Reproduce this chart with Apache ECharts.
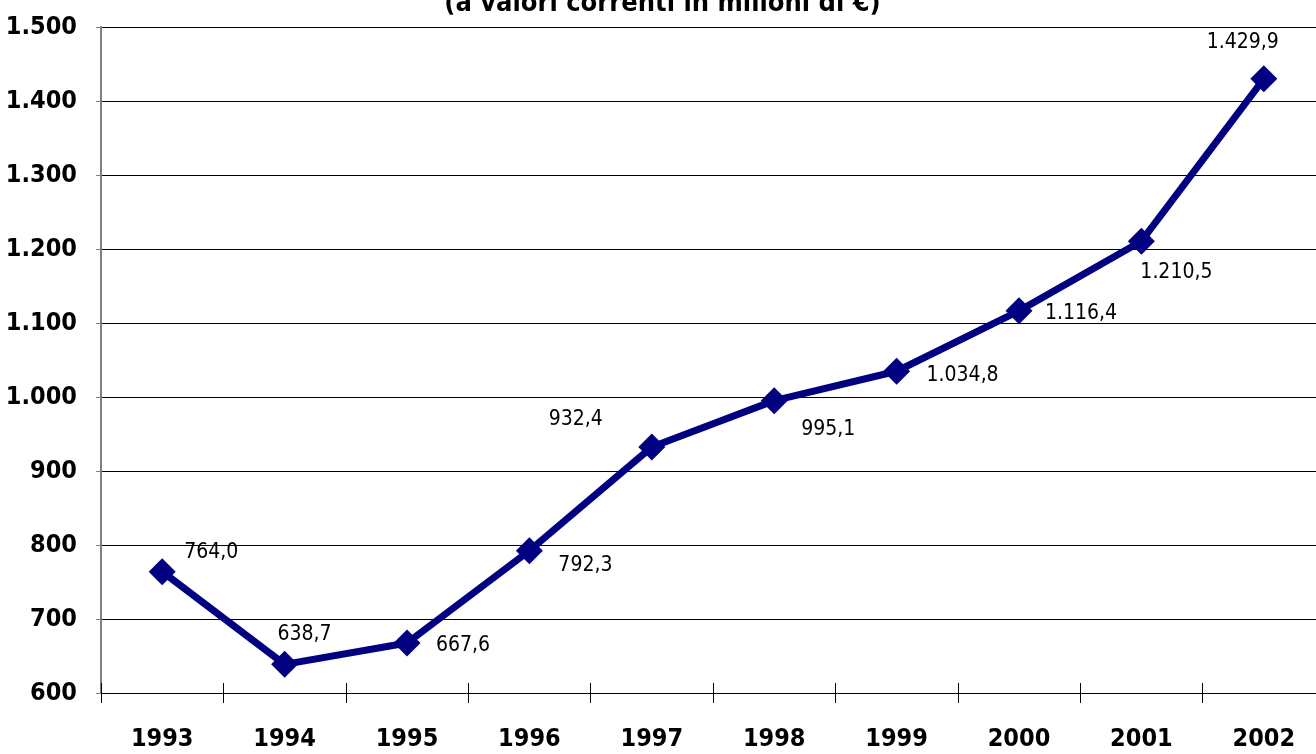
<!DOCTYPE html>
<html>
<head>
<meta charset="utf-8">
<script src="https://cdn.jsdelivr.net/npm/echarts@6/dist/echarts.min.js"></script>
<style>
  html, body { margin: 0; padding: 0; background: #fff; overflow: hidden; }
  #chart { width: 1325px; height: 754px; }
</style>
</head>
<body>
<div id="chart"></div>
<script>
const years = ['1993', '1994', '1995', '1996', '1997', '1998', '1999', '2000', '2001', '2002']
const values = [764.0, 638.7, 667.6, 792.3, 932.4, 995.1, 1034.8, 1116.4, 1210.5, 1429.9]
const titleText = '(a valori correnti in milioni di €)'

// where each value label sits relative to its marker
const labelOffsets = [
  [49, -19], [20, -30], [56, 3], [56, 15], [-76, -27],
  [54, 29], [66, 4], [62, 3], [35, 31], [-21, -36]
]

const font = '"Liberation Sans Narrow", "DejaVu Sans Condensed", "Arial Narrow", sans-serif'
const navy = '#000080'

function itFormat(v, decimals) {
  const parts = v.toFixed(decimals).split('.')
  const int = parts[0].replace(/\B(?=(\d{3})+(?!\d))/g, '.')
  return parts.length > 1 ? int + ',' + parts[1] : int
}

const chart = echarts.init(document.getElementById('chart'))

chart.setOption({
  backgroundColor: '#fff',
  animation: false,
  title: {
    text: titleText,
    left: 'center',
    top: -15,
    textStyle: { fontFamily: font, fontSize: 27, fontWeight: 'bold', color: '#000' }
  },
  grid: { left: 101, right: 0, top: 27, bottom: 61 },
  xAxis: [{
    type: 'category',
    data: years,
    boundaryGap: true,
    axisLine: { lineStyle: { color: '#000', width: 1 } },
    axisTick: { show: true, length: 10, lineStyle: { color: '#000' } },
    axisLabel: {
      margin: 34,
      fontFamily: font, fontSize: 25, fontWeight: 'bold', color: '#000'
    }
  }, {
    // inner half of the crossing ticks
    type: 'category',
    data: years,
    position: 'bottom',
    boundaryGap: true,
    axisLine: { show: false },
    axisTick: { show: true, inside: true, length: 10, lineStyle: { color: '#000' } },
    axisLabel: { show: false }
  }],
  yAxis: {
    type: 'value',
    min: 600,
    max: 1500,
    interval: 100,
    axisLine: { show: true, lineStyle: { color: '#808080', width: 2 } },
    axisTick: { show: true, length: 5, lineStyle: { color: '#808080' } },
    splitLine: { lineStyle: { color: '#000', width: 1 } },
    axisLabel: {
      margin: 24,
      fontFamily: font, fontSize: 25, fontWeight: 'bold', color: '#000',
      formatter: (v) => itFormat(v, 0)
    }
  },
  series: [{
    type: 'line',
    data: values.map((v, i) => ({
      value: v,
      label: { offset: labelOffsets[i] }
    })),
    symbol: 'path://M0,-1L1,0L0,1L-1,0Z',
    symbolSize: 27,
    itemStyle: { color: navy },
    lineStyle: { color: navy, width: 7 },
    label: {
      show: true,
      position: 'inside',
      fontFamily: font,
      fontSize: 21,
      color: '#000',
      formatter: (p) => itFormat(p.value, 1)
    }
  }]
})
</script>
</body>
</html>
